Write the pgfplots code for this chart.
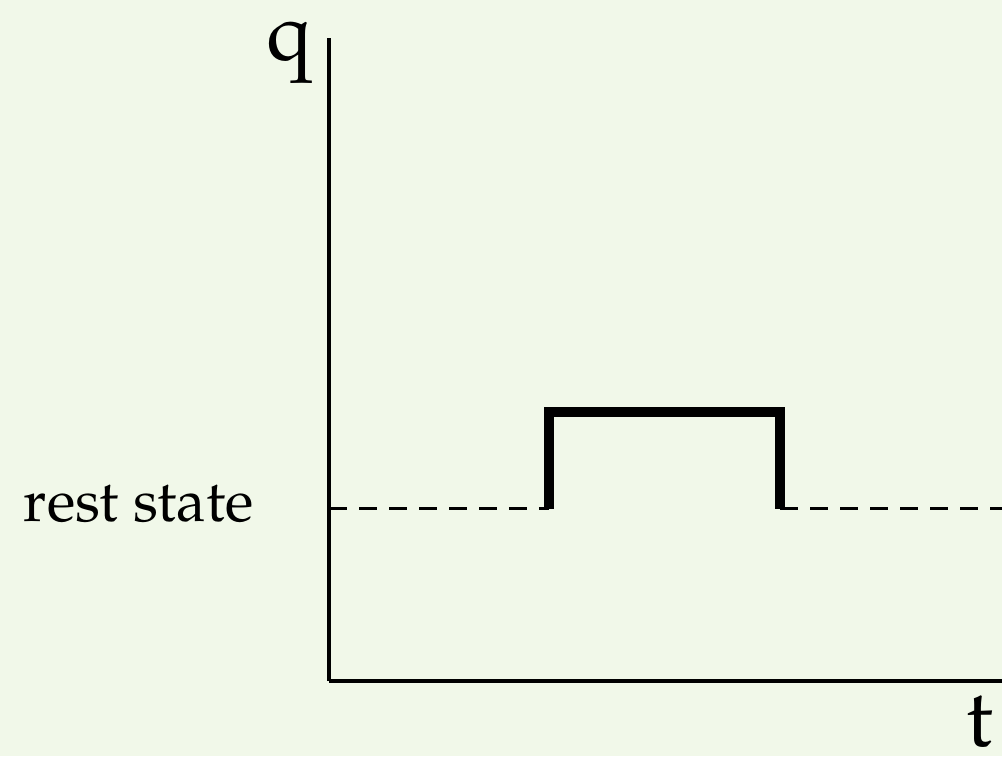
\documentclass[border=0pt]{standalone}
\usepackage{fontspec}
\setmainfont{TeX Gyre Pagella}
\usepackage{pgfplots}
\pgfplotsset{compat=1.18}
\definecolor{bg}{HTML}{F1F8E9}
\begin{document}
\begin{tikzpicture}[x=0.5pt,y=0.5pt]
\fill[bg] (0,0) rectangle (1004,758);
\begin{axis}[
  at={(330,76)}, anchor=origin,
  x=0.5pt, y=0.5pt,
  xmin=0, xmax=674, ymin=0, ymax=644,
  axis x line=bottom, axis y line=left,
  every outer x axis line/.append style={-},
  every outer y axis line/.append style={-},
  axis line style={line width=2pt, black},
  xtick=\empty, ytick=\empty,
  clip=false,
]
\addplot[black, line width=1.5pt, dash pattern=on 9pt off 6pt] coordinates {(0,172) (220,172)};
\addplot[black, line width=5pt, line join=miter] coordinates {(220,172) (220,269) (452,269) (452,172)};
\addplot[black, line width=1.5pt, dash pattern=on 9pt off 6pt] coordinates {(452,172) (674,172)};
\end{axis}
\node[font=\fontsize{41}{48}\selectfont, anchor=base, inner sep=0pt] at (290,697) {q};
\node[font=\fontsize{41}{48}\selectfont, anchor=base, inner sep=0pt] at (982,10) {t};
\node[font=\fontsize{29.5}{35}\selectfont, anchor=base, inner sep=0pt] at (139,235) {rest state};
\end{tikzpicture}
\end{document}
